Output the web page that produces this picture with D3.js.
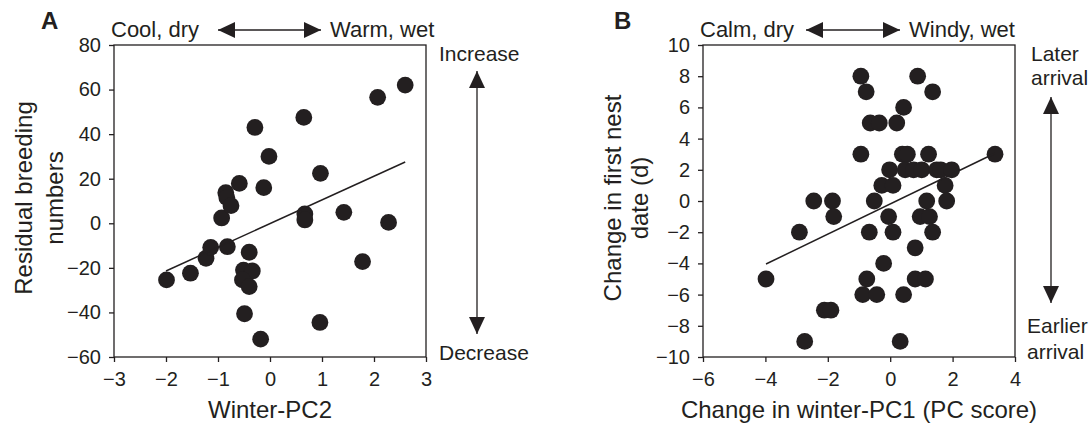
<!DOCTYPE html>
<html lang="en">
<head>
    <meta charset="UTF-8">
    <title>winter climate and breeding</title>
    <script src="https://d3js.org/d3.v7.min.js"></script>
    <style>
        body { margin: 0; background: #fff; }
        text { font-family: "Liberation Sans", Arial, sans-serif; fill: #231f20; }
    </style>
</head>
<body>
<script>
// panel A data
var winterPC2 = [-1.99, -1.53, -1.23, -1.14, -0.93, -0.85, -0.83, -0.75, -0.82, -0.59,
    -0.29, -0.02, -0.12, -0.40, -0.51, -0.34, -0.53, -0.40, -0.49, -0.18,
    0.65, 0.67, 0.67, 0.97, 1.42, 0.96, 1.78, 2.07, 2.28, 2.60];
var residualBreeding = [-25.4, -22.4, -15.7, -10.8, 2.4, 13.7, 11.5, 7.9, -10.5, 17.9,
    43, 30, 16, -13, -21, -21.4, -25.4, -28.4, -40.6, -52,
    47.5, 4.2, 1.5, 22.4, 4.9, -44.5, -17.2, 56.5, 0.4, 62];
var fitA = [[-2, -21.4], [2.6, 27.5]];
var xTicksA = [-3, -2, -1, 0, 1, 2, 3];
var yTicksA = [-60, -40, -20, 0, 20, 40, 60, 80];

// panel B data
var pc1Change = [-3.98, -2.91, -2.74, -2.45, -2.11, -1.9, -1.85, -1.81, -0.94, -0.77,
    -0.94, -0.88, -0.75, -0.67, -0.64, -0.51, -0.43, -0.35, -0.21, -0.27,
    -0.05, -0.02, 0.09, 0.09, 0.21, 0.32, 0.43, 0.43, 0.39, 0.55,
    0.48, 0.75, 0.88, 0.8, 0.8, 0.96, 1.01, 1.13, 1.17, 1.23,
    1.26, 1.36, 1.36, 1.49, 1.62, 1.76, 1.81, 1.97, 3.36];
var nestDateChange = [-5, -2, -9, 0, -7, -7, 0, -1, 8, 7,
    3, -6, -5, -2, 5, 0, -6, 5, -4, 1,
    -1, 2, 1, -2, 5, -9, 6, -6, 3, 3,
    2, 2, 8, -3, -5, -1, 2, -5, 0, 3,
    -1, -2, 7, 2, 2, 1, 0, 2, 3];
var fitB = [[-3.98, -4.04], [3.36, 3.06]];
var xTicksB = [-6, -4, -2, 0, 2, 4];
var yTicksB = [-10, -8, -6, -4, -2, 0, 2, 4, 6, 8, 10];

var ink = "#231f20";

var svg = d3.select("body")
    .append("svg")
    .attr("width", 1091)
    .attr("height", 424);

// double headed arrow, heads drawn as filled triangles
function arrow(g, x1, y1, x2, y2) {
    var len = 17, half = 8;
    var a = Math.atan2(y2 - y1, x2 - x1);
    g.append("line")
        .attr("x1", x1).attr("y1", y1).attr("x2", x2).attr("y2", y2)
        .attr("stroke", ink).attr("stroke-width", 1.3);
    [[x1, y1, a + Math.PI], [x2, y2, a]].forEach(function(h) {
        var c = Math.cos(h[2]), s = Math.sin(h[2]);
        var bx = h[0] - len * c, by = h[1] - len * s;
        g.append("path")
            .attr("d", "M" + h[0] + "," + h[1] +
                "L" + (bx - half * s) + "," + (by + half * c) +
                "L" + (bx + half * s) + "," + (by - half * c) + "Z")
            .attr("fill", ink);
    });
}

// draws one scatter panel with frame, axes, dots and fit line
function panel(opt) {
    var x = d3.scaleLinear().domain(opt.xDomain).range([opt.left, opt.left + 312]);
    var y = d3.scaleLinear().domain(opt.yDomain).range([357, 45]);
    var g = svg.append("g");
    var fmt = d => d3.format("d")(d).replace("-", "\u2212");

    g.append("rect")
        .attr("x", x.range()[0]).attr("y", 45)
        .attr("width", 312).attr("height", 312)
        .attr("fill", "none").attr("stroke", ink).attr("stroke-width", 1.3);

    var xAxis = g.append("g")
        .attr("transform", "translate(0,357)")
        .call(d3.axisBottom(x).tickValues(opt.xTicks).tickSize(5).tickPadding(10).tickFormat(fmt));
    var yAxis = g.append("g")
        .attr("transform", "translate(" + opt.left + ",0)")
        .call(d3.axisLeft(y).tickValues(opt.yTicks).tickSize(5).tickPadding(8).tickFormat(fmt));
    [xAxis, yAxis].forEach(function(a) {
        a.select(".domain").remove();
        a.selectAll("line").attr("stroke", ink).attr("stroke-width", 1.3);
        a.selectAll("text").attr("font-size", 20).attr("fill", ink)
            .attr("font-family", "'Liberation Sans', Arial, sans-serif");
    });

    g.selectAll("circle")
        .data(d3.zip(opt.xs, opt.ys))
        .enter()
        .append("circle")
        .attr("cx", d => x(d[0]))
        .attr("cy", d => y(d[1]))
        .attr("r", 8.4)
        .attr("fill", ink);

    g.append("line")
        .attr("x1", x(opt.fit[0][0])).attr("y1", y(opt.fit[0][1]))
        .attr("x2", x(opt.fit[1][0])).attr("y2", y(opt.fit[1][1]))
        .attr("stroke", ink).attr("stroke-width", 1.5);

    // axis titles
    g.append("text")
        .attr("x", opt.left + 156).attr("y", 418)
        .attr("text-anchor", "middle").attr("font-size", 24)
        .text(opt.xTitle);
    opt.yTitle.forEach(function(t, i) {
        g.append("text")
            .attr("transform", "translate(" + opt.yTitleX[i] + ",198) rotate(-90)")
            .attr("text-anchor", "middle").attr("font-size", 24)
            .text(t);
    });

    // panel letter
    g.append("text")
        .attr("x", opt.letterX).attr("y", 29)
        .attr("font-size", 24).attr("font-weight", "bold")
        .text(opt.letter);

    // horizontal annotation
    g.append("text").attr("x", opt.left - 3).attr("y", 37).attr("font-size", 22).text(opt.topLeft);
    g.append("text").attr("x", opt.topArrow[1] + 9).attr("y", 37).attr("font-size", 22).text(opt.topRight);
    arrow(g, opt.topArrow[0], 30, opt.topArrow[1], 30);

    // vertical annotation
    arrow(g, opt.sideX, opt.sideArrow[0], opt.sideX, opt.sideArrow[1]);
    opt.sideTop.forEach(function(t, i) {
        g.append("text").attr("x", opt.sideTopX).attr("y", opt.sideTopY + i * 24).attr("font-size", 21).text(t);
    });
    opt.sideBottom.forEach(function(t, i) {
        g.append("text").attr("x", opt.sideBottomX).attr("y", opt.sideBottomY + i * 26).attr("font-size", 21).text(t);
    });
}

panel({
    left: 114, xDomain: [-3, 3], yDomain: [-60, 80],
    xTicks: xTicksA, yTicks: yTicksA,
    xs: winterPC2, ys: residualBreeding, fit: fitA,
    xTitle: "Winter-PC2", yTitle: ["Residual breeding", "numbers"], yTitleX: [32, 63],
    letter: "A", letterX: 41,
    topLeft: "Cool, dry", topRight: "Warm, wet", topArrow: [218, 321],
    sideX: 477, sideArrow: [71, 334],
    sideTop: ["Increase"], sideTopX: 439, sideTopY: 61,
    sideBottom: ["Decrease"], sideBottomX: 439, sideBottomY: 360
});

panel({
    left: 703, xDomain: [-6, 4], yDomain: [-10, 10],
    xTicks: xTicksB, yTicks: yTicksB,
    xs: pc1Change, ys: nestDateChange, fit: fitB,
    xTitle: "Change in winter-PC1 (PC score)", yTitle: ["Change in first nest", "date (d)"], yTitleX: [621, 648],
    letter: "B", letterX: 614,
    topLeft: "Calm, dry", topRight: "Windy, wet", topArrow: [806, 900],
    sideX: 1051, sideArrow: [97, 303],
    sideTop: ["Later", "arrival"], sideTopX: 1031, sideTopY: 61,
    sideBottom: ["Earlier", "arrival"], sideBottomX: 1027, sideBottomY: 333
});
</script>
</body>
</html>
